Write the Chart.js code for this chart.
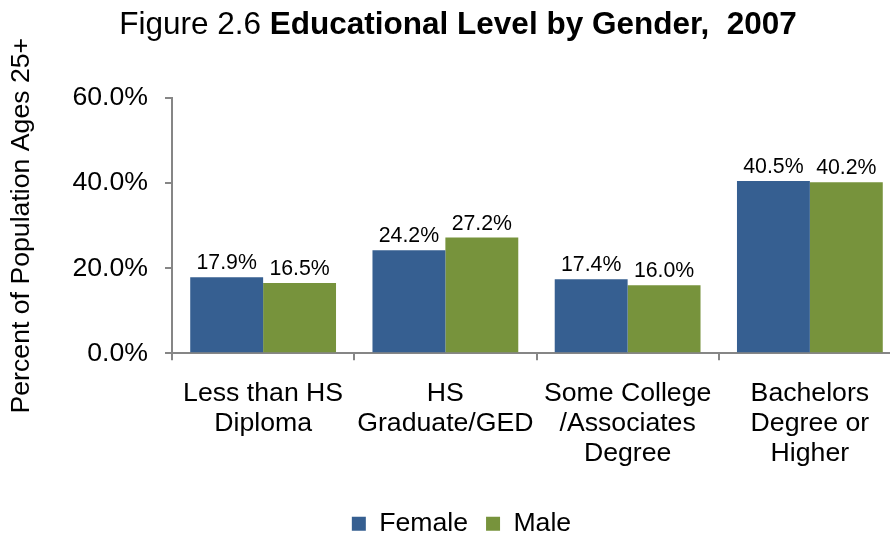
<!DOCTYPE html>
<html><head><meta charset="utf-8">
<script src="https://cdn.jsdelivr.net/npm/chart.js@4"></script>
<style>html,body{margin:0;padding:0;background:#fff;overflow:hidden}#wrap{width:890px;height:535px;overflow:hidden}#c{display:block}</style>
</head><body><div id="wrap"><canvas id="c" width="901" height="547"></canvas></div>
<script>
const categories = [["Less than HS","Diploma"],["HS","Graduate/GED"],["Some College","/Associates","Degree"],["Bachelors","Degree or","Higher"]];
const female = [17.9, 24.2, 17.4, 40.5];
const male = [16.5, 27.2, 16.0, 40.2];
const yTicks = [0, 20, 40, 60];
const FONT = "'Liberation Sans', Arial, sans-serif";

const titlePlugin = {
  id: 'mixedTitle',
  afterDraw(chart) {
    const ctx = chart.ctx;
    ctx.save();
    ctx.fillStyle = '#000';
    ctx.textBaseline = 'alphabetic';
    const a = 'Figure 2.6 ', b = 'Educational Level by Gender,  2007';
    ctx.font = '31.5px ' + FONT;
    const wa = ctx.measureText(a).width;
    ctx.font = 'bold 31.5px ' + FONT;
    const wb = ctx.measureText(b).width;
    const x0 = 458 - (wa + wb) / 2;
    ctx.font = '31.5px ' + FONT;
    ctx.fillText(a, x0, 34);
    ctx.font = 'bold 31.5px ' + FONT;
    ctx.fillText(b, x0 + wa, 34);
    ctx.restore();
  }
};
const labelPlugin = {
  id: 'barLabels',
  afterDatasetsDraw(chart) {
    const ctx = chart.ctx;
    ctx.save();
    ctx.font = '21.3px ' + FONT;
    ctx.fillStyle = '#000';
    ctx.textAlign = 'center';
    ctx.textBaseline = 'alphabetic';
    chart.data.datasets.forEach((ds, i) => {
      chart.getDatasetMeta(i).data.forEach((bar, j) => {
        ctx.fillText(ds.data[j].toFixed(1) + '%', bar.x, bar.y - 8);
      });
    });
    ctx.restore();
  }
};

new Chart(document.getElementById('c'), {
  type: 'bar',
  data: {
    labels: categories,
    datasets: [
      {label: 'Female', data: female, backgroundColor: '#365F91'},
      {label: 'Male', data: male, backgroundColor: '#77933C'}
    ]
  },
  options: {
    responsive: false,
    animation: false,
    devicePixelRatio: 1,
    layout: {padding: {top: 98, right: 0, left: 22, bottom: 0}},
    datasets: {bar: {categoryPercentage: 0.80, barPercentage: 1.0}},
    plugins: {
      legend: {
        position: 'bottom',
        labels: {font: {size: 26.67, family: FONT}, color: '#000', boxWidth: 14, boxHeight: 14, padding: 18}
      },
      tooltip: {enabled: false},
      title: {display: false}
    },
    scales: {
      x: {
        grid: {display: true, drawOnChartArea: false, drawTicks: true, tickLength: 7, color: '#868686', offset: true, lineWidth: 2},
        border: {color: '#868686', width: 2},
        ticks: {font: {size: 26.67, family: FONT, lineHeight: 1.125}, color: '#000', maxRotation: 0, autoSkip: false, padding: 18},
        afterFit(s) { s.height = 139; }
      },
      y: {
        min: 0, max: 60,
        afterBuildTicks(s) { s.ticks = yTicks.map(v => ({value: v})); },
        grid: {drawOnChartArea: false, drawTicks: true, tickLength: 7, color: '#868686', lineWidth: 2},
        border: {color: '#868686', width: 2},
        ticks: {font: {size: 26.67, family: FONT}, color: '#000', padding: 17, callback: v => v.toFixed(1) + '%'},
        title: {display: true, text: 'Percent of Population Ages 25+', font: {size: 26.67, family: FONT}, color: '#000', padding: {top: -16, bottom: 0}},
        afterFit(s) { s.width = 150; }
      }
    }
  },
  plugins: [titlePlugin, labelPlugin]
});
</script></body></html>
